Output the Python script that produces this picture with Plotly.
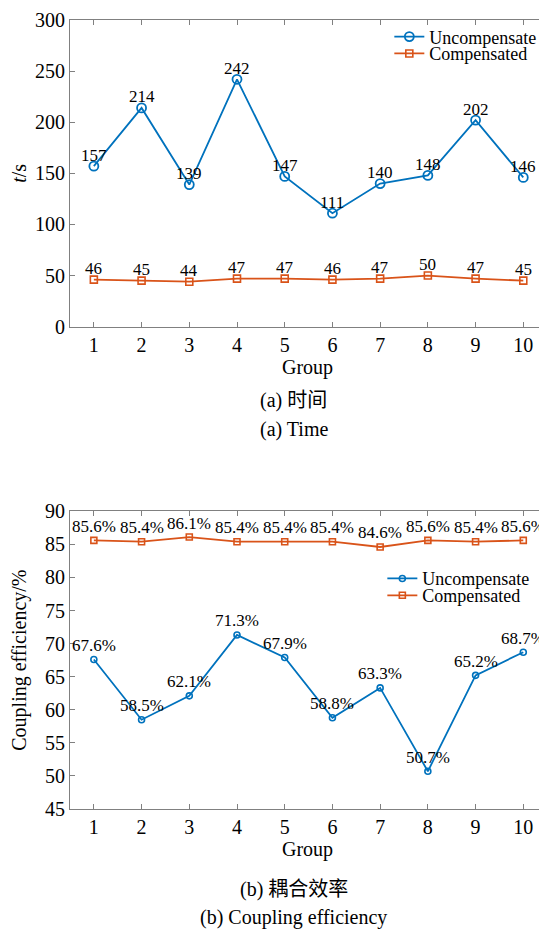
import plotly.graph_objects as go

groups = [1, 2, 3, 4, 5, 6, 7, 8, 9, 10]
time_uncomp = [157, 214, 139, 242, 147, 111, 140, 148, 202, 146]
time_comp = [46, 45, 44, 47, 47, 46, 47, 50, 47, 45]
eff_uncomp = [67.6, 58.5, 62.1, 71.3, 67.9, 58.8, 63.3, 50.7, 65.2, 68.7]
eff_comp = [85.6, 85.4, 86.1, 85.4, 85.4, 85.4, 84.6, 85.6, 85.4, 85.6]
time_ticks = [0, 50, 100, 150, 200, 250, 300]
eff_ticks = [45, 50, 55, 60, 65, 70, 75, 80, 85, 90]

BLUE = "#0072BD"
ORANGE = "#D95319"
FONT = "Liberation Serif, Times New Roman, Noto Sans CJK SC, serif"
AXC = "#808080"

OFF = 8  # page body margin
W, H = 547 - OFF, 933 - OFF
ML, MR, MT, MB = 70 - OFF, 1, 14 - OFF, 933 - 809
ph = H - MT - MB
pw = W - ML - MR


def py(pix):
    # reference page pixel -> paper y
    return (H - MB - (pix - OFF)) / ph


def px(pix):
    return ((pix - OFF) - ML) / pw


fig = go.Figure()

fig.add_trace(go.Scatter(
    x=groups, y=time_uncomp, mode="lines+markers", name="Uncompensate",
    line=dict(color=BLUE, width=1.8),
    marker=dict(symbol="circle-open", size=9, color=BLUE, line=dict(width=1.8)),
    xaxis="x", yaxis="y", legend="legend"))
fig.add_trace(go.Scatter(
    x=groups, y=time_comp, mode="lines+markers", name="Compensated",
    line=dict(color=ORANGE, width=1.8),
    marker=dict(symbol="square-open", size=7, color=ORANGE, line=dict(width=1.6)),
    xaxis="x", yaxis="y", legend="legend2"))
fig.add_trace(go.Scatter(
    x=groups, y=eff_uncomp, mode="lines+markers", name="Uncompensate",
    line=dict(color=BLUE, width=1.8),
    marker=dict(symbol="circle-open", size=6, color=BLUE, line=dict(width=1.6)),
    xaxis="x2", yaxis="y2", legend="legend3"))
fig.add_trace(go.Scatter(
    x=groups, y=eff_comp, mode="lines+markers", name="Compensated",
    line=dict(color=ORANGE, width=1.8),
    marker=dict(symbol="square-open", size=6, color=ORANGE, line=dict(width=1.6)),
    xaxis="x2", yaxis="y2", legend="legend4"))

lblfont = dict(size=17, color="black", family=FONT)
for xs, ys, fmt, xr, yr, sh in [
    (groups, time_uncomp, "{:d}", "x", "y", 11),
    (groups, time_comp, "{:d}", "x", "y", 11),
    (groups, eff_uncomp, "{:.1f}%", "x2", "y2", 14),
    (groups, eff_comp, "{:.1f}%", "x2", "y2", 14),
]:
    for xv, yv in zip(xs, ys):
        fig.add_annotation(x=xv, y=yv, xref=xr, yref=yr, text=fmt.format(yv),
                           showarrow=False, yshift=sh, yanchor="middle",
                           xanchor="center", font=lblfont)

xcommon = dict(range=[0.5, 10.455], tickmode="array", tickvals=groups,
               ticktext=[str(g) for g in groups],
               showline=True, linecolor=AXC, linewidth=1, mirror="ticks",
               ticks="inside", ticklen=5, tickcolor=AXC,
               showgrid=False, zeroline=False,
               tickfont=dict(size=20, color="black", family=FONT),
               title=dict(text="Group", font=dict(size=20, color="black", family=FONT), standoff=2))
ycommon = dict(showline=True, linecolor=AXC, linewidth=1, mirror="ticks",
               ticks="inside", ticklen=5, tickcolor=AXC,
               showgrid=False, zeroline=False,
               tickfont=dict(size=20, color="black", family=FONT))

fig.update_layout(
    width=W, height=H,
    margin=dict(l=ML, r=MR, t=MT, b=MB),
    paper_bgcolor="white", plot_bgcolor="white",
    font=dict(family=FONT, color="black"),
    xaxis=dict(**xcommon, domain=[0, 1], anchor="y"),
    yaxis=dict(**ycommon, domain=[py(323), 1], anchor="x", range=[0, 300],
               tickvals=time_ticks,
               title=dict(text="<i>t</i>/s", font=dict(size=20, color="black", family=FONT), standoff=6)),
    xaxis2=dict(**xcommon, domain=[0, 1], anchor="y2"),
    yaxis2=dict(**ycommon, domain=[0, py(509)], anchor="x2", range=[45, 90],
                tickvals=eff_ticks,
                title=dict(text="Coupling efficiency/%", font=dict(size=20, color="black", family=FONT), standoff=14)),
    showlegend=True,
)

legfont = dict(size=18, color="black", family=FONT)
fig.update_layout(
    legend=dict(x=px(390), y=py(31), xanchor="left", yanchor="middle", font=legfont, bgcolor="rgba(0,0,0,0)"),
    legend2=dict(x=px(390), y=py(48), xanchor="left", yanchor="middle", font=legfont, bgcolor="rgba(0,0,0,0)"),
    legend3=dict(x=px(383), y=py(577), xanchor="left", yanchor="middle", font=legfont, bgcolor="rgba(0,0,0,0)"),
    legend4=dict(x=px(383), y=py(594), xanchor="left", yanchor="middle", font=legfont, bgcolor="rgba(0,0,0,0)"),
)

caps = [("(a) 时间", 397), ("(a) Time", 427), ("(b) 耦合效率", 890), ("(b) Coupling efficiency", 918)]
for txt, yy in caps:
    fig.add_annotation(text=txt, xref="paper", yref="paper", x=px(294), y=py(yy),
                       xanchor="center", yanchor="middle", showarrow=False,
                       font=dict(size=20, color="black", family=FONT))

fig.write_html("out.html")
